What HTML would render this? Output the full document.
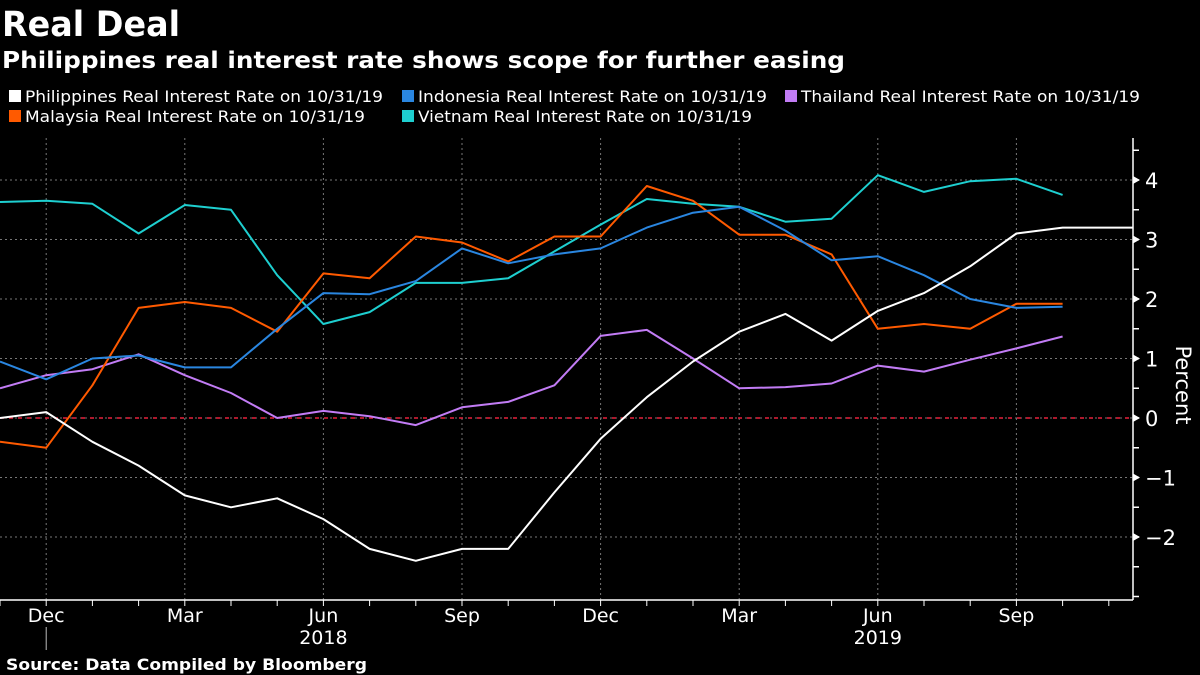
<!DOCTYPE html>
<html><head><meta charset="utf-8"><style>
html,body{margin:0;padding:0;background:#000;}
svg{display:block;}
text{font-family:"DejaVu Sans","Liberation Sans",sans-serif;fill:#fff;}
</style></head><body>
<svg id="c" width="1200" height="675" viewBox="0 0 1200 675" xmlns="http://www.w3.org/2000/svg">
<text x="2" y="36" font-size="35" font-weight="bold" textLength="178" lengthAdjust="spacingAndGlyphs">Real Deal</text>
<text x="2" y="68" font-size="23" font-weight="bold" textLength="843" lengthAdjust="spacingAndGlyphs">Philippines real interest rate shows scope for further easing</text>
<g id="legend"></g>
<g id="grid"></g>
<g id="axes"></g>
<g id="series"></g>
<text transform="translate(1176,385) rotate(90)" text-anchor="middle" font-size="21">Percent</text>
<text x="6" y="670" font-size="16" font-weight="bold" textLength="361" lengthAdjust="spacingAndGlyphs">Source: Data Compiled by Bloomberg</text>
</svg>
<script>
const months = ["Nov 17","Dec 17","Jan 18","Feb 18","Mar 18","Apr 18","May 18","Jun 18","Jul 18","Aug 18","Sep 18","Oct 18","Nov 18","Dec 18","Jan 19","Feb 19","Mar 19","Apr 19","May 19","Jun 19","Jul 19","Aug 19","Sep 19","Oct 19"];
const philippines = [0.0,0.1,-0.4,-0.8,-1.3,-1.5,-1.35,-1.7,-2.2,-2.4,-2.2,-2.2,-1.25,-0.35,0.35,0.95,1.45,1.75,1.3,1.8,2.1,2.55,3.1,3.2];
const indonesia = [0.95,0.65,1.0,1.05,0.85,0.85,1.5,2.1,2.08,2.3,2.85,2.6,2.75,2.85,3.2,3.45,3.55,3.15,2.65,2.72,2.4,2.0,1.85,1.87];
const thailand = [0.5,0.72,0.82,1.07,0.72,0.42,0.0,0.12,0.03,-0.12,0.18,0.27,0.55,1.38,1.48,1.0,0.5,0.52,0.58,0.88,0.78,0.98,1.17,1.37];
const malaysia = [-0.4,-0.5,0.55,1.85,1.95,1.85,1.45,2.43,2.35,3.05,2.95,2.63,3.05,3.05,3.9,3.65,3.08,3.08,2.75,1.5,1.58,1.5,1.92,1.92];
const vietnam = [3.63,3.65,3.6,3.1,3.58,3.5,2.4,1.58,1.78,2.27,2.27,2.35,2.8,3.25,3.68,3.6,3.55,3.3,3.35,4.08,3.8,3.98,4.02,3.75];
const yTicks = [-2,-1,0,1,2,3,4];
const xLabels = [[1,"Dec"],[4,"Mar"],[7,"Jun"],[10,"Sep"],[13,"Dec"],[16,"Mar"],[19,"Jun"],[22,"Sep"]];
const years = [[7,"2018"],[19,"2019"]];

const NS="http://www.w3.org/2000/svg";
const X0=0, DX=46.2, AXR=1133, AXB=600, AXT=138;
const x=i=>X0+i*DX;
const y=v=>418-v*59.5;
function mk(tag,attrs,parent){const e=document.createElementNS(NS,tag);for(const k in attrs)e.setAttribute(k,attrs[k]);parent.appendChild(e);return e;}
const grid=document.getElementById('grid'),axes=document.getElementById('axes'),ser=document.getElementById('series'),leg=document.getElementById('legend');

yTicks.forEach(v=>{
  const l=mk('line',{x1:0,x2:AXR,y1:y(v),y2:y(v),stroke:'#777','stroke-width':1,'stroke-dasharray':'2,3'},grid);
  
  
  const t=mk('text',{x:AXR+12,y:y(v)+8,'font-size':21},axes);
  t.textContent=v<0?'\u2212'+(-v):String(v);
  
  
  mk('path',{d:`M${AXR} ${y(v)-4} L${AXR+7} ${y(v)} L${AXR} ${y(v)+4}Z`,fill:'#fff'},axes);
});
for(let v=-3;v<=4.5;v+=0.5){mk('line',{x1:AXR,x2:AXR+6,y1:y(v),y2:y(v),stroke:'#fff','stroke-width':1.5},axes);}
xLabels.forEach(([i,s])=>{
  const l=mk('line',{x1:x(i),x2:x(i),y1:AXT,y2:AXB,stroke:'#777','stroke-width':1,'stroke-dasharray':'2,3'},grid);
  
  
  const t=mk('text',{x:x(i),y:622,'font-size':19,'text-anchor':'middle'},axes);
  t.textContent=s;
  
  
});
years.forEach(([i,s])=>{
  const t=mk('text',{x:x(i),y:644,'font-size':19,'text-anchor':'middle'},axes);
  t.textContent=s;
  
  
});
mk('line',{x1:x(1),x2:x(1),y1:627,y2:650,stroke:'#bbb','stroke-width':1},axes);
mk('line',{x1:0,x2:AXR,y1:AXB,y2:AXB,stroke:'#fff','stroke-width':1.5},axes);
mk('line',{x1:AXR,x2:AXR,y1:AXT,y2:AXB,stroke:'#fff','stroke-width':1.5},axes);
for(let i=0;i<=24;i++){mk('line',{x1:x(i),x2:x(i),y1:AXB,y2:AXB+6,stroke:'#fff','stroke-width':1},axes);}
const z=mk('line',{x1:0,x2:AXR,y1:y(0),y2:y(0),stroke:'#e8203a','stroke-width':1.5,'stroke-dasharray':'4,5'},grid);



const series=[
 ["vietnam",vietnam,"#1ecfd0"],
 ["thailand",thailand,"#c27cf5"],
 ["malaysia",malaysia,"#ff5a00"],
 ["indonesia",indonesia,"#2a86e0"],
 ["philippines",philippines,"#ffffff"]];
series.forEach(([n,d,c])=>{
  let p=d.map((v,i)=>(i?'L':'M')+x(i).toFixed(1)+' '+y(v).toFixed(1)).join(' ');
  if(n==="philippines") p+=' L'+AXR+' '+y(d[d.length-1]).toFixed(1);
  const e=mk('path',{d:p,fill:'none',stroke:c,'stroke-width':2,'stroke-linejoin':'round'},ser);
  
  
});

const legItems=[
 ["Philippines Real Interest Rate on 10/31/19","#fff",9,101,358],
 ["Indonesia Real Interest Rate on 10/31/19","#2a86e0",402,101,349],
 ["Thailand Real Interest Rate on 10/31/19","#c27cf5",785,101,339],
 ["Malaysia Real Interest Rate on 10/31/19","#ff5a00",9,121,340],
 ["Vietnam Real Interest Rate on 10/31/19","#1ecfd0",402,121,334]];
legItems.forEach(([s,c,lx,ly,w])=>{
  const r=mk('rect',{x:lx,y:ly-11,width:12,height:12,fill:c},leg);
  
  
  const t=mk('text',{x:lx+16,y:ly+1,'font-size':16,textLength:w,lengthAdjust:'spacingAndGlyphs'},leg);
  t.textContent=s;
  
  
});
</script>
</body></html>
